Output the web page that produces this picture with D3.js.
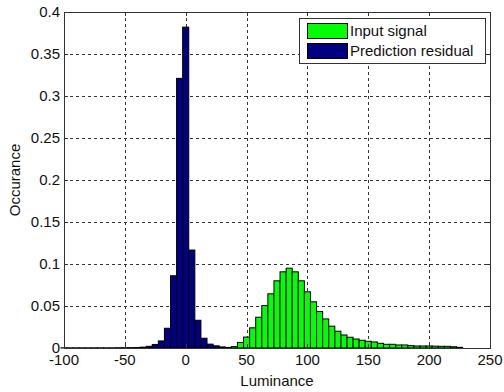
<!DOCTYPE html>
<html>
<head>
<meta charset="utf-8">
<script src="https://cdn.jsdelivr.net/npm/d3@7"></script>
<style>
  body { margin: 0; background: #fff; }
  svg { display: block; font-family: "Liberation Sans", Arial, sans-serif; }
</style>
</head>
<body>
<div id="chart"></div>
<script>
// histogram bins, 5 units wide
const residualCenters = d3.range(-100, 36, 5);
const residualValues = [
  0.0002, 0.0002, 0.0002, 0.0002, 0.0002, 0.0002, 0.0002, 0.0002, 0.0002, 0.0003,
  0.0003, 0.0004, 0.0005, 0.001, 0.002, 0.0042, 0.0084, 0.0235, 0.086, 0.321,
  0.382, 0.1166, 0.033, 0.0116, 0.0046, 0.0026, 0.0013, 0.0007
];
const inputCenters = d3.range(40, 226, 5);
const inputValues = [
  0.0016, 0.0065, 0.013, 0.024, 0.0366, 0.0505, 0.0645, 0.080, 0.0907, 0.095,
  0.0907, 0.080, 0.0669, 0.055, 0.0434, 0.0346, 0.026, 0.020, 0.0155, 0.0128,
  0.0107, 0.0092, 0.008, 0.0072, 0.0056, 0.0044, 0.0044, 0.0036, 0.0036, 0.0028,
  0.0024, 0.0024, 0.0024, 0.0022, 0.002, 0.002, 0.0015, 0.0008
];
const xTicks = [-100, -50, 0, 50, 100, 150, 200, 250];
const yTicks = [0, 0.05, 0.1, 0.15, 0.2, 0.25, 0.3, 0.35, 0.4];
const seriesNames = ["Input signal", "Prediction residual"];
const seriesColors = ["#00ff00", "#000080"];
const binWidth = 5;

const width = 504, height = 392;
const margin = {left: 64, right: 14, top: 12, bottom: 44};

const svg = d3.select("#chart").append("svg")
  .attr("width", width)
  .attr("height", height);

svg.append("rect").attr("width", width).attr("height", height).attr("fill", "#fff");

const x = d3.scaleLinear().domain([-100, 250]).range([margin.left, width - margin.right]);
const y = d3.scaleLinear().domain([0, 0.4]).range([height - margin.bottom, margin.top]);

const x0 = margin.left, x1 = width - margin.right;
const y0 = height - margin.bottom, y1 = margin.top;

// grid lines (dashed, matlab style)
const grid = svg.append("g").attr("stroke", "#333").attr("stroke-dasharray", "3,3").attr("stroke-width", 1);
xTicks.slice(1, -1).forEach(t => {
  grid.append("line").attr("x1", Math.round(x(t)) + 0.5).attr("x2", Math.round(x(t)) + 0.5)
    .attr("y1", y1).attr("y2", y0);
});
yTicks.slice(1, -1).forEach(t => {
  grid.append("line").attr("y1", Math.round(y(t)) + 0.5).attr("y2", Math.round(y(t)) + 0.5)
    .attr("x1", x0).attr("x2", x1);
});

// bars
function drawBars(centers, values, color) {
  svg.append("g")
    .selectAll("rect")
    .data(centers.map((c, i) => ({c: c, v: values[i]})))
    .join("rect")
      .attr("x", d => x(d.c - binWidth / 2))
      .attr("width", d => x(d.c + binWidth / 2) - x(d.c - binWidth / 2))
      .attr("y", d => y(d.v))
      .attr("height", d => y(0) - y(d.v))
      .attr("fill", color)
      .attr("stroke", "#000")
      .attr("stroke-width", 1);
}
drawBars(inputCenters, inputValues, seriesColors[0]);
drawBars(residualCenters, residualValues, seriesColors[1]);

// box and inward ticks on all sides
const frame = svg.append("g").attr("stroke", "#333").attr("stroke-width", 1).attr("fill", "none");
frame.append("rect").attr("x", x0 + 0.5).attr("y", y1 + 0.5)
  .attr("width", x1 - x0).attr("height", y0 - y1);
const tl = 4;
xTicks.forEach(t => {
  const px = Math.round(x(t)) + 0.5;
  frame.append("line").attr("x1", px).attr("x2", px).attr("y1", y0).attr("y2", y0 - tl);
  frame.append("line").attr("x1", px).attr("x2", px).attr("y1", y1).attr("y2", y1 + tl);
});
yTicks.forEach(t => {
  const py = Math.round(y(t)) + 0.5;
  frame.append("line").attr("y1", py).attr("y2", py).attr("x1", x0).attr("x2", x0 + tl);
  frame.append("line").attr("y1", py).attr("y2", py).attr("x1", x1).attr("x2", x1 - tl);
});

// tick labels
svg.append("g").selectAll("text")
  .data(xTicks)
  .join("text")
    .attr("x", d => x(d))
    .attr("y", y0 + 17)
    .attr("text-anchor", "middle")
    .attr("font-size", 15)
    .attr("fill", "#111")
    .text(d => d);

svg.append("g").selectAll("text")
  .data(yTicks)
  .join("text")
    .attr("x", x0 - 4)
    .attr("y", d => y(d) + 5)
    .attr("text-anchor", "end")
    .attr("font-size", 15)
    .attr("fill", "#111")
    .text(d => d);

// axis titles
svg.append("text")
  .attr("x", (x0 + x1) / 2)
  .attr("y", 386)
  .attr("text-anchor", "middle")
  .attr("font-size", 15)
  .attr("fill", "#111")
  .text("Luminance");

svg.append("text")
  .attr("transform", `translate(20,${(y0 + y1) / 2}) rotate(-90)`)
  .attr("text-anchor", "middle")
  .attr("font-size", 15)
  .attr("fill", "#111")
  .text("Occurance");

// legend
const legend = svg.append("g").attr("transform", "translate(299,18)");
legend.append("rect")
  .attr("x", 0.5).attr("y", 0.5)
  .attr("width", 186).attr("height", 45)
  .attr("fill", "#fff").attr("stroke", "#333");
seriesNames.forEach((name, i) => {
  legend.append("rect")
    .attr("x", 8.5).attr("y", 5.5 + i * 20)
    .attr("width", 40).attr("height", 15)
    .attr("fill", seriesColors[i]).attr("stroke", "#000");
  legend.append("text")
    .attr("x", 51).attr("y", 18 + i * 20)
    .attr("font-size", 15)
    .attr("fill", "#111")
    .text(name);
});
</script>
</body>
</html>
